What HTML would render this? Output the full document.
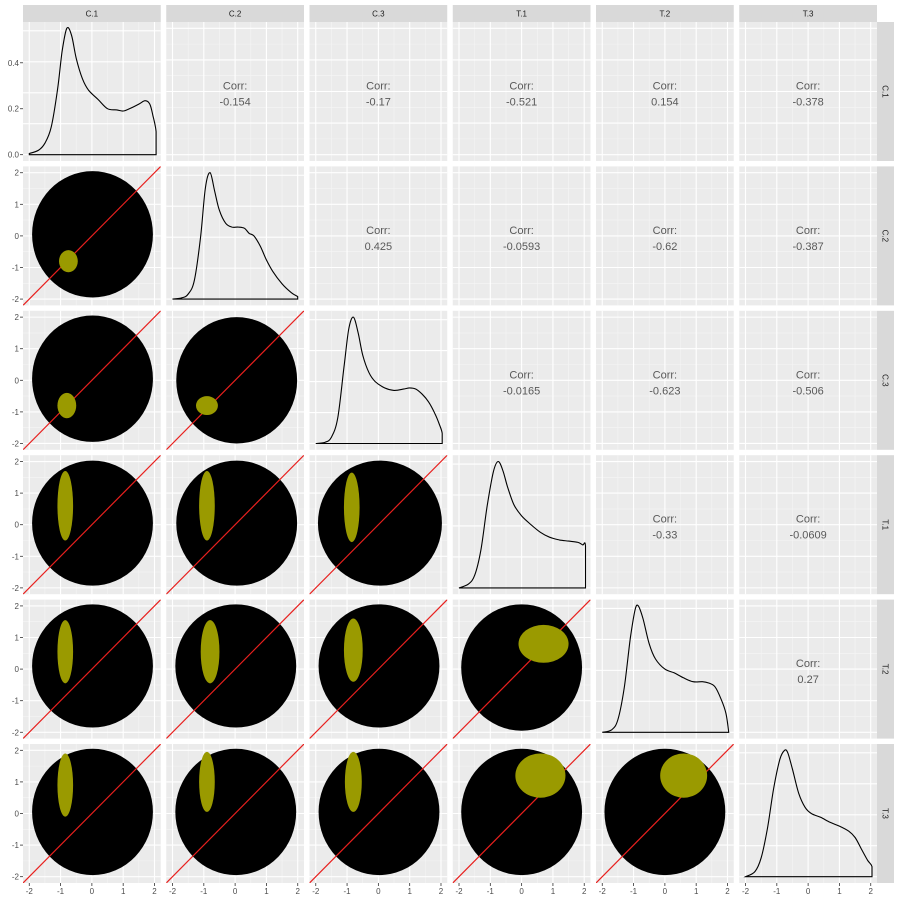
<!DOCTYPE html>
<html><head><meta charset="utf-8"><style>
html,body{margin:0;padding:0;background:#fff;}
svg{display:block;font-family:"Liberation Sans",sans-serif;}
</style></head><body>
<svg id="chart" width="900" height="900" viewBox="0 0 900 900"></svg>
<script>
const varNames = ["C.1","C.2","C.3","T.1","T.2","T.3"];
const corrVals = {"0-1":"-0.154","0-2":"-0.17","0-3":"-0.521","0-4":"0.154","0-5":"-0.378",
"1-2":"0.425","1-3":"-0.0593","1-4":"-0.62","1-5":"-0.387",
"2-3":"-0.0165","2-4":"-0.623","2-5":"-0.506",
"3-4":"-0.33","3-5":"-0.0609","4-5":"0.27"};
const densX0 = [-2,-1.7,-1.5,-1.3,-1.1,-0.95,-0.8,-0.65,-0.5,-0.3,-0.1,0.2,0.5,0.8,1.0,1.2,1.5,1.7,1.85,1.95,2.05,2.05];
const densY0 = [0.005,0.02,0.05,0.12,0.28,0.45,0.55,0.52,0.42,0.33,0.28,0.24,0.2,0.195,0.19,0.2,0.22,0.235,0.22,0.17,0.1,0];
const densX1 = [-2,-1.7,-1.5,-1.3,-1.1,-0.95,-0.8,-0.65,-0.5,-0.3,-0.1,0.1,0.3,0.45,0.6,0.8,1.0,1.2,1.5,1.8,2];
const densY1 = [0,0.01,0.04,0.15,0.5,0.88,1.0,0.85,0.7,0.6,0.57,0.57,0.56,0.52,0.5,0.42,0.31,0.22,0.12,0.05,0.02];
const densX2 = [-2,-1.7,-1.5,-1.3,-1.1,-0.95,-0.8,-0.65,-0.5,-0.3,-0.1,0.2,0.5,0.8,1.0,1.2,1.4,1.6,1.8,1.95,2.04,2.04];
const densY2 = [0,0.01,0.05,0.2,0.6,0.9,1.0,0.88,0.7,0.56,0.49,0.44,0.42,0.43,0.44,0.43,0.39,0.33,0.24,0.15,0.08,0];
const densX3 = [-2,-1.7,-1.5,-1.3,-1.1,-0.9,-0.75,-0.6,-0.45,-0.25,0,0.3,0.6,0.9,1.2,1.5,1.8,1.95,2.04,2.04];
const densY3 = [0,0.03,0.1,0.3,0.65,0.92,1.0,0.93,0.8,0.66,0.57,0.5,0.44,0.4,0.38,0.37,0.36,0.34,0.33,0];
const densX4 = [-2,-1.7,-1.5,-1.3,-1.1,-0.95,-0.85,-0.7,-0.5,-0.3,0,0.3,0.6,0.9,1.2,1.4,1.6,1.8,1.95,2.04];
const densY4 = [0,0.02,0.1,0.35,0.75,0.97,1.0,0.9,0.7,0.58,0.5,0.47,0.43,0.4,0.4,0.39,0.36,0.26,0.15,0];
const densX5 = [-2,-1.7,-1.5,-1.3,-1.1,-0.9,-0.75,-0.65,-0.5,-0.3,-0.1,0.1,0.4,0.7,1.0,1.3,1.5,1.7,1.9,2.04,2.04];
const densY5 = [0,0.04,0.15,0.38,0.7,0.93,1.0,0.98,0.85,0.66,0.55,0.5,0.47,0.43,0.4,0.36,0.31,0.22,0.13,0.08,0];
const densXs = [densX0,densX1,densX2,densX3,densX4,densX5];
const densYs = [densY0,densY1,densY2,densY3,densY4,densY5];
const densTicks0 = [0,0.2,0.4];
const axisTicks = [-2,-1,0,1,2];
const blobs = {"1-0":[0.02,0.05,1.93,2.0],"2-0":[0.02,0.05,1.93,2.0],"2-1":[0.05,0,1.93,2.0],
"3-0":[0.02,0.05,1.93,1.98],"3-1":[0.05,0.05,1.93,1.98],"3-2":[0.05,0.05,1.98,1.98],
"4-0":[0.02,0.1,1.93,1.95],"4-1":[0.02,0.1,1.93,1.95],"4-2":[0.02,0.1,1.93,1.95],"4-3":[0,0.05,1.93,2.0],
"5-0":[0.02,0.05,1.93,2.0],"5-1":[0.02,0.05,1.93,2.0],"5-2":[0.02,0.05,1.93,2.0],"5-3":[0,0.05,1.93,2.0],"5-4":[0,0.05,1.93,2.0]};
const clusters = {"1-0":[-0.75,-0.8,0.3,0.35],"2-0":[-0.8,-0.8,0.3,0.4],"2-1":[-0.9,-0.8,0.35,0.3],
"3-0":[-0.85,0.6,0.25,1.1],"3-1":[-0.9,0.6,0.25,1.1],"3-2":[-0.85,0.55,0.25,1.1],
"4-0":[-0.85,0.55,0.25,1.0],"4-1":[-0.8,0.55,0.3,1.0],"4-2":[-0.8,0.6,0.3,1.0],"4-3":[0.7,0.8,0.8,0.6],
"5-0":[-0.85,0.9,0.25,1.0],"5-1":[-0.9,1.0,0.25,0.95],"5-2":[-0.8,1.0,0.27,0.95],"5-3":[0.6,1.2,0.8,0.7],"5-4":[0.6,1.2,0.75,0.7]};

const NS="http://www.w3.org/2000/svg";
const svg=document.getElementById('chart');
function mk(tag,attrs,parent){const e=document.createElementNS(NS,tag);for(const k in attrs)e.setAttribute(k,attrs[k]);(parent||svg).appendChild(e);return e;}
const X0=23, Y0=22, PW=137.75, PH=139, PX=143.25, PY=144.4;
function px(col,v){return X0+col*PX+(v+2.2)/4.4*PW;}
function py(row,v){return Y0+row*PY+PH-(v+2.2)/4.4*PH;}
function smooth(pts){
  let d='M'+pts[0][0].toFixed(1)+','+pts[0][1].toFixed(1);
  for(let i=0;i<pts.length-1;i++){
    const p0=pts[Math.max(0,i-1)],p1=pts[i],p2=pts[i+1],p3=pts[Math.min(pts.length-1,i+2)];
    if(p1[0]===p2[0]){d+='L'+p2[0].toFixed(1)+','+p2[1].toFixed(1);continue;}
    const c1=[p1[0]+(p2[0]-p0[0])/6,p1[1]+(p2[1]-p0[1])/6];
    const c2=[p2[0]-(p3[0]-p1[0])/6,p2[1]-(p3[1]-p1[1])/6];
    d+='C'+c1[0].toFixed(1)+','+c1[1].toFixed(1)+' '+c2[0].toFixed(1)+','+c2[1].toFixed(1)+' '+p2[0].toFixed(1)+','+p2[1].toFixed(1);
  }
  return d;
}

for(let r=0;r<6;r++){for(let c=0;c<6;c++){
  const x=X0+c*PX, y=Y0+r*PY;
  const g=mk('g',{});
  
  
  const cid='cp'+r+c;
  const cp=mk('clipPath',{id:cid},g); mk('rect',{x:x,y:y,width:PW,height:PH},cp);
  mk('rect',{x:x,y:y,width:PW,height:PH,fill:'#ebebeb'},g);
  [-1.5,-0.5,0.5,1.5].forEach(v=>{
    mk('line',{x1:px(c,v),x2:px(c,v),y1:y,y2:y+PH,stroke:'#f5f5f5','stroke-width':0.6},g);
    if(r!==c) mk('line',{x1:x,x2:x+PW,y1:py(r,v),y2:py(r,v),stroke:'#f5f5f5','stroke-width':0.6},g);
  });
  axisTicks.forEach(v=>{
    mk('line',{x1:px(c,v),x2:px(c,v),y1:y,y2:y+PH,stroke:'#fff','stroke-width':1.1},g);
    if(r!==c) mk('line',{x1:x,x2:x+PW,y1:py(r,v),y2:py(r,v),stroke:'#fff','stroke-width':1.1},g);
  });
  if(r===c){
    const xs=densXs[r], ys=densYs[r];
    const mx=Math.max(...ys);
    const dy=v=>y+PH-(v+0.05*mx)/(1.1*mx)*PH;
    for(let k=0;k<=4;k++){const v=mx*(k/4)*0.98; mk('line',{x1:x,x2:x+PW,y1:dy(v),y2:dy(v),stroke:'#fff','stroke-width':1.1},g);}
    const pts=xs.map((xv,i)=>[px(c,xv),dy(ys[i])]);
    let d=smooth(pts);
    d+='L'+px(c,xs[xs.length-1]).toFixed(1)+','+dy(0).toFixed(1)+'L'+px(c,xs[0]).toFixed(1)+','+dy(0).toFixed(1)+'Z';
    const p=mk('path',{d:d,fill:'none',stroke:'#000','stroke-width':1.1},g);
    
    
  } else if(c>r){
    const cx=x+PW/2, cy=y+PH/2;
    const t1=mk('text',{x:cx,y:cy-2,'text-anchor':'middle','font-size':11,fill:'#595959'},g);
    t1.textContent='Corr:';
    
    
    const t2=mk('text',{x:cx,y:cy+14,'text-anchor':'middle','font-size':11,fill:'#595959'},g);
    t2.textContent=corrVals[r+'-'+c];
    
    
  } else {
    const gg=mk('g',{'clip-path':'url(#'+cid+')'},g);
    const b=blobs[r+'-'+c];
    const e=mk('ellipse',{cx:px(c,b[0]),cy:py(r,b[1]),rx:b[2]/4.4*PW,ry:b[3]/4.4*PH,fill:'#000'},gg);
    
    
    const ln=mk('line',{x1:px(c,-2.3),y1:py(r,-2.3),x2:px(c,2.3),y2:py(r,2.3),stroke:'#e8201e','stroke-width':1.2},gg);
    
    
    const k=clusters[r+'-'+c];
    const ce=mk('ellipse',{cx:px(c,k[0]),cy:py(r,k[1]),rx:k[2]/4.4*PW,ry:k[3]/4.4*PH,fill:'#9a9a00'},gg);
    
    
  }
}}
for(let c=0;c<6;c++){
  const x=X0+c*PX;
  const s=mk('rect',{x:x,y:5,width:PW,height:17,fill:'#d9d9d9'});
  
  
  const t=mk('text',{x:x+PW/2,y:16.5,'text-anchor':'middle','font-size':8,fill:'#1a1a1a'});
  t.textContent=varNames[c];
  
  
  axisTicks.forEach(v=>{
    mk('line',{x1:px(c,v),x2:px(c,v),y1:883,y2:886,stroke:'#333','stroke-width':0.8});
    const tl=mk('text',{x:px(c,v),y:894,'text-anchor':'middle','font-size':8,fill:'#4d4d4d'});
    tl.textContent=String(v);
    
    
  });
}
for(let r=0;r<6;r++){
  const y=Y0+r*PY;
  const s=mk('rect',{x:877,y:y,width:17,height:PH,fill:'#d9d9d9'});
  
  
  const t=mk('text',{x:0,y:0,'text-anchor':'middle','font-size':8,fill:'#1a1a1a',transform:'translate(882.5,'+(y+PH/2)+') rotate(90)'});
  t.textContent=varNames[r];
  
  
  if(r===0){
    const mx=Math.max(...densY0);
    densTicks0.forEach(v=>{
      const yy=y+PH-(v+0.05*mx)/(1.1*mx)*PH;
      mk('line',{x1:20,x2:23,y1:yy,y2:yy,stroke:'#333','stroke-width':0.8});
      const tl=mk('text',{x:19,y:yy+3,'text-anchor':'end','font-size':8,fill:'#4d4d4d'});
      tl.textContent=v.toFixed(1);
      
      
    });
  } else {
    axisTicks.forEach(v=>{
      const yy=py(r,v);
      mk('line',{x1:20,x2:23,y1:yy,y2:yy,stroke:'#333','stroke-width':0.8});
      const tl=mk('text',{x:19,y:yy+3,'text-anchor':'end','font-size':8,fill:'#4d4d4d'});
      tl.textContent=String(v);
      
      
    });
  }
}
</script>
</body></html>
